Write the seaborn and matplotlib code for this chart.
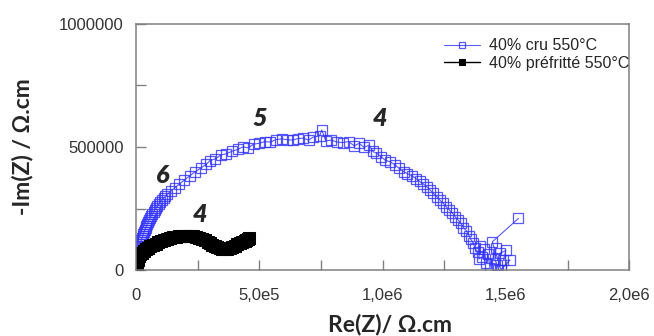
import numpy as np
import pandas as pd
import matplotlib
import matplotlib.pyplot as plt
from matplotlib.ticker import MultipleLocator, FuncFormatter
import seaborn as sns

sns.set_theme(style='white')
plt.rcParams['font.family'] = ['Liberation Sans', 'DejaVu Sans']

# 40% cru 550°C (Re, -Im) in units of 1e6 ohm.cm
cru_re = [0.000, 0.001, 0.001, 0.002, 0.003, 0.004, 0.005, 0.006, 0.008, 0.009,
          0.011, 0.012, 0.014, 0.016, 0.018, 0.020, 0.022, 0.025, 0.027, 0.030,
          0.033, 0.036, 0.039, 0.042, 0.046, 0.049, 0.053, 0.057, 0.061, 0.066,
          0.071, 0.076, 0.081, 0.087, 0.093, 0.099, 0.106, 0.112, 0.119, 0.126,
          0.141, 0.158, 0.176, 0.196, 0.218, 0.240, 0.262, 0.285, 0.300, 0.322,
          0.345, 0.365, 0.390, 0.412, 0.432, 0.455, 0.478, 0.500, 0.522, 0.545,
          0.568, 0.590, 0.612, 0.635, 0.655, 0.678, 0.700, 0.718, 0.745, 0.753,
          0.770, 0.792, 0.815, 0.838, 0.862, 0.885, 0.905, 0.925, 0.945, 0.960,
          0.975, 0.995, 1.010, 1.030, 1.050, 1.065, 1.085, 1.100, 1.118, 1.135,
          1.150, 1.165, 1.180, 1.192, 1.205, 1.220, 1.232, 1.245, 1.258, 1.270,
          1.283, 1.294, 1.305, 1.318, 1.328, 1.340, 1.350, 1.358, 1.368, 1.375,
          1.385, 1.395, 1.390, 1.405, 1.412, 1.420, 1.428, 1.435, 1.460, 1.455,
          1.465, 1.470, 1.477, 1.500, 1.490, 1.517, 1.480, 1.445, 1.551]
cru_im = [0.000, 0.006, 0.012, 0.020, 0.028, 0.036, 0.044, 0.052, 0.060, 0.068,
          0.076, 0.084, 0.092, 0.100, 0.108, 0.116, 0.124, 0.132, 0.140, 0.148,
          0.156, 0.164, 0.172, 0.180, 0.188, 0.196, 0.204, 0.212, 0.220, 0.228,
          0.236, 0.244, 0.252, 0.260, 0.268, 0.276, 0.284, 0.292, 0.300, 0.308,
          0.320, 0.335, 0.350, 0.366, 0.383, 0.400, 0.414, 0.430, 0.445, 0.452,
          0.468, 0.472, 0.483, 0.490, 0.500, 0.497, 0.512, 0.515, 0.522, 0.520,
          0.530, 0.533, 0.530, 0.528, 0.534, 0.536, 0.528, 0.540, 0.545, 0.569,
          0.525, 0.528, 0.520, 0.518, 0.522, 0.505, 0.515, 0.498, 0.508, 0.482,
          0.475, 0.460, 0.447, 0.440, 0.428, 0.415, 0.400, 0.392, 0.384, 0.372,
          0.360, 0.350, 0.338, 0.326, 0.312, 0.298, 0.285, 0.272, 0.258, 0.245,
          0.232, 0.217, 0.205, 0.190, 0.172, 0.160, 0.140, 0.125, 0.110, 0.088,
          0.072, 0.100, 0.045, 0.055, 0.085, 0.030, 0.065, 0.010, 0.090, 0.045,
          0.020, 0.000, 0.069, 0.080, 0.040, 0.041, 0.002, 0.115, 0.210]

# 40% préfritté 550°C
pre_re = [0.000, 0.001, 0.002, 0.004, 0.006, 0.009, 0.013, 0.018, 0.024, 0.031,
          0.039, 0.048, 0.058, 0.068, 0.079, 0.090, 0.101, 0.113, 0.125, 0.137,
          0.149, 0.161, 0.173, 0.185, 0.197, 0.209, 0.221, 0.233, 0.245, 0.257,
          0.268, 0.279, 0.290, 0.300, 0.310, 0.320, 0.330, 0.340, 0.350, 0.360,
          0.370, 0.380, 0.390, 0.400, 0.410, 0.420, 0.430, 0.440, 0.448, 0.455,
          0.460]
pre_im = [0.000, 0.012, 0.023, 0.033, 0.042, 0.050, 0.057, 0.064, 0.071, 0.078,
          0.085, 0.091, 0.097, 0.103, 0.108, 0.113, 0.118, 0.122, 0.126, 0.130,
          0.133, 0.136, 0.138, 0.139, 0.140, 0.140, 0.139, 0.137, 0.134, 0.130,
          0.126, 0.121, 0.116, 0.110, 0.104, 0.099, 0.094, 0.090, 0.087, 0.085,
          0.085, 0.088, 0.093, 0.099, 0.105, 0.110, 0.115, 0.120, 0.124, 0.128,
          0.131]

# frequency decade labels
dec_text = ['6', '5', '4', '4']
dec_x = [0.11, 0.50, 0.99, 0.26]
dec_y = [0.385, 0.615, 0.615, 0.225]

cru = pd.DataFrame({'re': np.array(cru_re) * 1e6, 'im': np.array(cru_im) * 1e6})
pre = pd.DataFrame({'re': np.array(pre_re) * 1e6, 'im': np.array(pre_im) * 1e6})

fig = plt.figure(figsize=(6.54, 3.36), dpi=100)
ax = fig.add_axes([0.208, 0.196, 0.754, 0.733])

sns.lineplot(data=cru, x='re', y='im', ax=ax, sort=False, estimator=None,
             color='#3030ff', lw=0.8, alpha=0.8, marker='s', ms=7,
             markerfacecolor='none', markeredgecolor='#3030ff', markeredgewidth=0.9,
             label='40% cru 550°C')
sns.lineplot(data=pre, x='re', y='im', ax=ax, sort=False, estimator=None,
             color='black', lw=1, marker='s', ms=8, markerfacecolor='black',
             markeredgecolor='black', label='40% préfritté 550°C')

ax.set_xlim(0, 2e6)
ax.set_ylim(0, 1e6)
ax.xaxis.set_major_locator(MultipleLocator(5e5))
ax.xaxis.set_minor_locator(MultipleLocator(2.5e5))
ax.yaxis.set_major_locator(MultipleLocator(5e5))
ax.yaxis.set_minor_locator(MultipleLocator(2.5e5))

def xfmt(v, pos):
    if v <= 0:
        return '0' if v == 0 else ''
    e = int(np.floor(np.log10(v)))
    return ('%.1fe%d' % (v / 10 ** e, e)).replace('.', ',')

ax.xaxis.set_major_formatter(FuncFormatter(xfmt))
ax.yaxis.set_major_formatter(FuncFormatter(lambda v, p: '%d' % v))

for s in ax.spines.values():
    s.set_color('#808080')
    s.set_linewidth(1.1)
ax.tick_params(which='both', direction='in', bottom=True, left=True,
               top=False, right=False, color='#808080', width=1)
ax.tick_params(which='major', length=7, labelsize=12, labelcolor='#333333')
ax.tick_params(axis='x', which='major', pad=13)
ax.tick_params(axis='y', which='major', pad=9)
ax.tick_params(which='minor', length=7)

lab_font = ['Lato', 'DejaVu Sans']
ax.set_xlabel('Re(Z)/ Ω.cm', fontsize=16.5, fontweight='bold', family=lab_font)
ax.set_ylabel('-Im(Z) / Ω.cm', fontsize=16.5, fontweight='bold', family=lab_font)
ax.xaxis.set_label_coords(0.515, -0.175)
ax.yaxis.set_label_coords(-0.208, 0.5)

for t, x, y in zip(dec_text, dec_x, dec_y):
    ax.text(x * 1e6, y * 1e6, t, fontsize=18, fontweight='heavy', style='italic',
            ha='center', va='center', family=lab_font)

leg = ax.legend(loc='upper right', bbox_to_anchor=(1.03, 1.0), frameon=False,
                fontsize=11.5, handlelength=2.2, borderaxespad=0.6,
                labelspacing=0.15, handletextpad=0.6, borderpad=0.3)
for h in leg.legend_handles:
    h.set_markersize(5)

fig.savefig('out.png', dpi=100)
